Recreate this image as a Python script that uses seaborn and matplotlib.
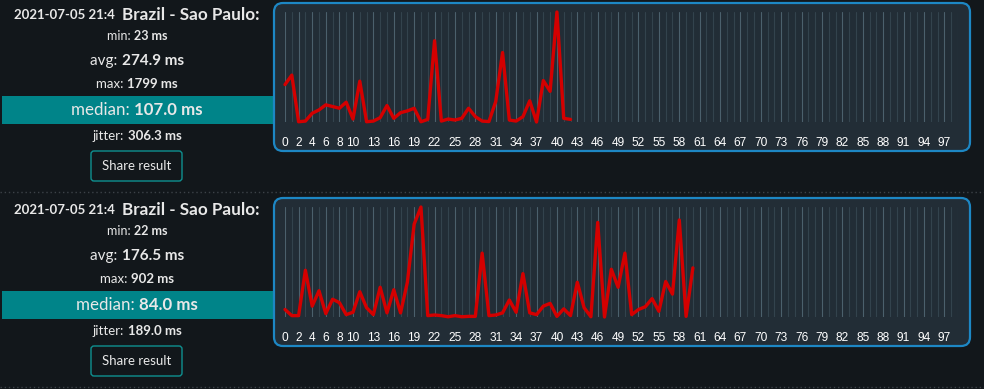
import matplotlib
matplotlib.use("Agg")
import matplotlib.pyplot as plt
import seaborn as sns
from matplotlib.patches import FancyBboxPatch, Rectangle
from matplotlib.lines import Line2D
from matplotlib.transforms import Affine2D

# ---- data ----
ping_1 = [627, 780, 27, 38, 164, 218, 300, 273, 245, 343, 71, 682, 27, 38, 93,
          289, 82, 174, 202, 245, 27, 65, 1335, 38, 71, 55, 82, 245, 109, 38,
          30, 354, 1145, 55, 38, 109, 365, 23, 692, 518, 1799, 82, 65]
ping_2 = [82, 33, 33, 396, 109, 232, 49, 164, 137, 41, 60, 224, 96, 41, 260,
          55, 240, 55, 300, 765, 902, 33, 38, 33, 24, 33, 24, 27, 27, 533,
          33, 38, 55, 158, 60, 369, 55, 41, 109, 131, 27, 87, 33, 300, 96,
          24, 779, 22, 404, 260, 533, 41, 82, 104, 169, 68, 306, 205, 798, 27, 415]

n_slots = 100
tick_idx = [0, 2, 4, 6, 8, 10, 13, 16, 19, 22, 25, 28, 31, 34, 37, 40, 43, 46,
            49, 52, 55, 58, 61, 64, 67, 70, 73, 76, 79, 82, 85, 88, 91, 94, 97]

titles = ["2021-07-05 21:4", "2021-07-05 21:4"]
locations = ["Brazil - Sao Paulo:", "Brazil - Sao Paulo:"]
mins = ["23 ms", "22 ms"]
avgs = ["274.9 ms", "176.5 ms"]
maxs = ["1799 ms", "902 ms"]
medians = ["107.0 ms", "84.0 ms"]
jitters = ["306.3 ms", "189.0 ms"]
series = [ping_1, ping_2]

BG = "#12171b"
PANEL = "#222d36"
BORDER = "#1d87c4"
TEAL = "#008489"
TXT = "#e8e8e8"
RED = "#d40000"

W, H = 984, 389
sns.set_theme(style="dark")
plt.rcParams["font.family"] = ["Lato", "DejaVu Sans"]

fig = plt.figure(figsize=(W / 100, H / 100), dpi=100, facecolor=BG)
# pixel coords, origin top-left
pix = Affine2D().scale(1 / W, -1 / H).translate(0, 1) + fig.transFigure
renderer = fig.canvas.get_renderer()


def mixed_text(parts, cx, cy):
    # parts: list of (text, weight, size); drawn centred on cx as one line
    texts = []
    for s, w, size in parts:
        t = fig.text(0, cy, s, transform=pix, fontsize=size, fontweight=w,
                     color=TXT, ha="left", va="center")
        texts.append(t)
    widths = [t.get_window_extent(renderer).width for t in texts]
    x = cx - sum(widths) / 2
    for t, wd in zip(texts, widths):
        t.set_position((x, cy))
        x += wd


for k in range(2):
    off = 195 * k
    cx = 137

    # left column
    mixed_text([(titles[k], "bold", 9.5), ("  ", "normal", 9.5),
                (locations[k], "bold", 12.3)], cx, 15 + off)
    mixed_text([("min: ", "normal", 9), (mins[k], "bold", 9)], cx, 36 + off)
    mixed_text([("avg: ", "normal", 11), (avgs[k], "bold", 11)], cx, 61 + off)
    mixed_text([("max: ", "normal", 9.5), (maxs[k], "bold", 9.5)], cx, 84 + off)
    fig.add_artist(Rectangle((2, 96 + off), 271, 28, transform=pix,
                             facecolor=TEAL, edgecolor="none", zorder=-5))
    mixed_text([("median: ", "normal", 12.2), (medians[k], "bold", 12.2)], cx, 110 + off)
    mixed_text([("jitter: ", "normal", 9.5), (jitters[k], "bold", 9.5)], cx, 136 + off)
    fig.add_artist(FancyBboxPatch((91, 151 + off), 91, 30, transform=pix,
                                  boxstyle="round,pad=0,rounding_size=3",
                                  facecolor="none", edgecolor="#0e9090",
                                  linewidth=1, zorder=-5))
    fig.text(cx, 166 + off, "Share result", transform=pix, fontsize=9.5,
             color=TXT, ha="center", va="center")

    # chart box
    fig.add_artist(FancyBboxPatch((274, 3 + off), 696, 148, transform=pix,
                                  boxstyle="round,pad=0,rounding_size=9",
                                  facecolor=PANEL, edgecolor=BORDER,
                                  linewidth=1.6, zorder=-5))

    ax = fig.add_axes([285 / W, 1 - (122 + off) / H, (958 - 285) / W, 110 / H])
    ax.set_facecolor("none")
    sns.lineplot(x=list(range(len(series[k]))), y=series[k], ax=ax,
                 color=RED, linewidth=2.4)
    for ln in ax.lines:
        ln.set_clip_on(False)
    ax.set_xlim(0, n_slots - 1)
    ax.set_ylim(min(series[k]), max(series[k]))
    ax.set_xticks(tick_idx)
    ax.set_xticks(range(n_slots), minor=True)
    ax.set_yticks([])
    ax.grid(False)
    ax.grid(True, which="minor", axis="x", color="#33434d", linewidth=0.8)
    ax.grid(True, which="major", axis="x", color="#4b606c", linewidth=0.8)
    ax.tick_params(axis="x", which="major", length=6, width=0.8, color="#4b606c",
                   labelcolor="white", pad=5)
    ax.tick_params(axis="x", which="minor", length=0)
    ax.set_xticklabels([str(i) for i in tick_idx])
    for lbl in ax.get_xticklabels():
        lbl.set_fontfamily("Liberation Sans")
        lbl.set_fontsize(8.6)
    for s in ax.spines.values():
        s.set_visible(False)
    ax.set_xlabel("")
    ax.set_ylabel("")

    # dotted separator
    fig.add_artist(Line2D([0, W], [192 + off, 192 + off], transform=pix,
                          color="#3c4248", linewidth=1, linestyle=(0, (1, 2))))

fig.savefig("out.png", dpi=100, facecolor=BG)
